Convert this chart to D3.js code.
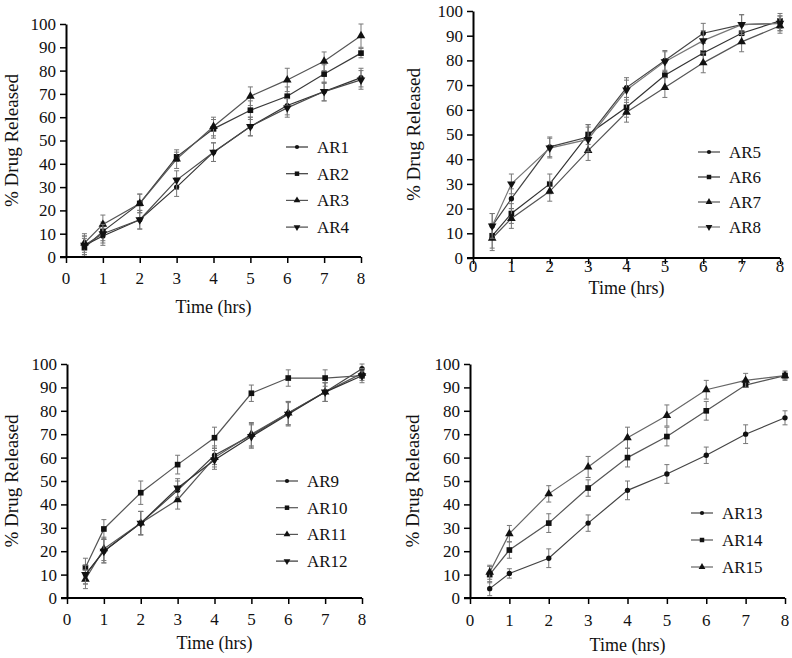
<!DOCTYPE html>
<html>
<head>
<meta charset="utf-8">
<script src="https://cdn.jsdelivr.net/npm/d3@7"></script>
<style>
  body { margin: 0; background: #fff; }
  svg text { font-family: "Liberation Serif", "Times New Roman", serif; fill: #111; }
</style>
</head>
<body>
<div id="chart"></div>
<script>

// time points (hrs)
var times = [0.5, 1, 2, 3, 4, 5, 6, 7, 8];
var xTicks = [0, 1, 2, 3, 4, 5, 6, 7, 8];
var yTicks = [0, 10, 20, 30, 40, 50, 60, 70, 80, 90, 100];

// % drug released
var ar1  = [5, 9, 16, 30, 45, 56, 65, 71, 77];
var ar2  = [4, 11, 23, 43, 55, 63, 69, 78.5, 87.5];
var ar3  = [6, 14, 23, 42, 56, 69, 76, 84, 95];
var ar4  = [5, 10, 16, 33, 45, 56, 64, 71, 76];

var ar5  = [13, 24, 45, 49, 69, 80, 91, 94.5, 95];
var ar6  = [9, 18, 30, 50, 61, 74, 83, 91, 96];
var ar7  = [8, 16, 27, 43.5, 59, 69, 79, 87.5, 94];
var ar8  = [13, 30, 44.5, 48, 68, 79.5, 88, 94.5, 95];

var ar9  = [10, 20, 32, 46, 61, 69.5, 79, 88, 98];
var ar10 = [13, 29.5, 45, 57, 68.5, 87.5, 94, 94, 95];
var ar11 = [8, 21, 32, 42, 60, 70, 79, 88, 96];
var ar12 = [10, 20, 32, 47, 59, 69, 78.5, 88, 95];

var ar13 = [4, 10.5, 17, 32, 46, 53, 61, 70, 77];
var ar14 = [10, 20.5, 32, 47, 60, 69, 80, 91, 95];
var ar15 = [11, 27.5, 44.5, 56, 68.5, 78, 89, 93, 95];

// +/- error (SD)
var err1  = [4, 4, 4, 4, 4, 4, 4, 4, 4];
var err2  = [4, 4, 4, 2, 4, 4, 4, 4, 2];
var err3  = [4, 4, 4, 4, 4, 4, 5, 4, 5];
var err4  = [4, 4, 4, 4, 4, 4, 4, 4, 4];
var err5  = [5, 4, 4, 5, 4, 4, 4, 4, 3];
var err6  = [5, 4, 4, 4, 4, 5, 4, 4, 3];
var err7  = [5, 4, 4, 4, 4, 4, 4, 4, 3];
var err8  = [5, 4, 4, 5, 4, 4, 4, 4, 3];
var err9  = [4, 5, 5, 4, 4, 5, 5, 4, 2];
var err10 = [4, 4, 5, 4, 4.5, 3.5, 3.5, 3.5, 3];
var err11 = [4, 5, 5, 4, 4, 5, 5, 4, 2];
var err12 = [4, 5, 5, 4, 4, 5, 5, 4, 2];
var err13 = [3, 2, 4, 3.5, 4, 4, 3.5, 4, 3];
var err14 = [3.5, 3.5, 4, 3.5, 4, 4, 4, 1, 2];
var err15 = [3, 3.5, 3.5, 4.5, 4.5, 4.5, 4, 3, 1.5];

var markers = ["circle", "square", "triangle", "down"];

var panels = [
  {
    names: ["AR1", "AR2", "AR3", "AR4"],
    values: [ar1, ar2, ar3, ar4],
    errors: [err1, err2, err3, err4],
    colors: ["#333", "#3a3a3a", "#555", "#4a4a4a"],
    x0: 66, x1: 361, top: 24, bottom: 257,
    tickY: 284, titleY: 313, yTitleX: 18,
    legX: 286, legY: 147, legStep: 26.7
  },
  {
    names: ["AR5", "AR6", "AR7", "AR8"],
    values: [ar5, ar6, ar7, ar8],
    errors: [err5, err6, err7, err8],
    colors: ["#444", "#333", "#555", "#777"],
    x0: 473, x1: 780, top: 11, bottom: 258,
    tickY: 272, titleY: 294, yTitleX: 420,
    legX: 698, legY: 152, legStep: 25
  },
  {
    names: ["AR9", "AR10", "AR11", "AR12"],
    values: [ar9, ar10, ar11, ar12],
    errors: [err9, err10, err11, err12],
    colors: ["#444", "#555", "#555", "#333"],
    x0: 67, x1: 362, top: 364, bottom: 598,
    tickY: 625, titleY: 649, yTitleX: 18,
    legX: 276, legY: 481, legStep: 26.7
  },
  {
    names: ["AR13", "AR14", "AR15"],
    values: [ar13, ar14, ar15],
    errors: [err13, err14, err15],
    colors: ["#444", "#555", "#666"],
    x0: 470, x1: 785, top: 364, bottom: 598,
    tickY: 626, titleY: 651, yTitleX: 419,
    legX: 691, legY: 513, legStep: 27
  }
];

var svg = d3.select("#chart")
  .append("svg")
  .attr("width", 792)
  .attr("height", 658);

svg.append("rect")
  .attr("width", 792)
  .attr("height", 658)
  .attr("fill", "#fff");

function markerPath(type, size) {
  if (type == "circle") return d3.symbol().type(d3.symbolCircle).size(size * 0.7)();
  if (type == "square") return d3.symbol().type(d3.symbolSquare).size(size)();
  return d3.symbol().type(d3.symbolTriangle).size(size)();
}

function drawMarker(g, type, x, y, size) {
  g.append("path")
    .attr("d", markerPath(type, size))
    .attr("transform", "translate(" + x + "," + y + ")" + (type == "down" ? " rotate(180)" : ""))
    .attr("fill", "#111");
}

panels.forEach(function(p) {
  var x = d3.scaleLinear().domain([0, 8]).range([p.x0, p.x1]);
  var y = d3.scaleLinear().domain([0, 100]).range([p.bottom, p.top]);

  var g = svg.append("g");

  // series
  p.values.forEach(function(vals, i) {
    var pts = times.map(function(t, k) { return { t: t, v: vals[k], e: p.errors[i][k] }; });
    var sg = g.append("g");

    // error bars
    var eb = sg.selectAll(".eb").data(pts).enter().append("g").attr("class", "eb")
      .attr("stroke", "#777").attr("stroke-width", 1);
    eb.append("line")
      .attr("x1", function(d) { return x(d.t); })
      .attr("x2", function(d) { return x(d.t); })
      .attr("y1", function(d) { return y(d.v - d.e); })
      .attr("y2", function(d) { return y(d.v + d.e); });
    eb.append("line")
      .attr("x1", function(d) { return x(d.t) - 2.5; })
      .attr("x2", function(d) { return x(d.t) + 2.5; })
      .attr("y1", function(d) { return y(d.v + d.e); })
      .attr("y2", function(d) { return y(d.v + d.e); });
    eb.append("line")
      .attr("x1", function(d) { return x(d.t) - 2.5; })
      .attr("x2", function(d) { return x(d.t) + 2.5; })
      .attr("y1", function(d) { return y(d.v - d.e); })
      .attr("y2", function(d) { return y(d.v - d.e); });

    var line = d3.line()
      .x(function(d) { return x(d.t); })
      .y(function(d) { return y(d.v); });

    sg.append("path")
      .datum(pts)
      .attr("d", line)
      .attr("fill", "none")
      .attr("stroke", p.colors[i])
      .attr("stroke-width", 1.2);

    pts.forEach(function(d) {
      drawMarker(sg, markers[i], x(d.t), y(d.v), 32);
    });

    // legend
    var ly = p.legY + i * p.legStep;
    g.append("line")
      .attr("x1", p.legX).attr("x2", p.legX + 22)
      .attr("y1", ly).attr("y2", ly)
      .attr("stroke", p.colors[i]).attr("stroke-width", 1.2);
    drawMarker(g, markers[i], p.legX + 11, ly, 20);
    g.append("text")
      .attr("x", p.legX + 31)
      .attr("y", ly)
      .attr("dy", "0.35em")
      .style("font-size", "17px")
      .text(p.names[i]);
  });

  // axes
  var xAxis = d3.axisBottom(x).tickValues(xTicks).tickSizeInner(6).tickSizeOuter(0).tickPadding(5);
  var yAxis = d3.axisLeft(y).tickValues(yTicks).tickSizeInner(6).tickSizeOuter(0).tickPadding(4);

  var gx = g.append("g")
    .attr("transform", "translate(0," + p.bottom + ")")
    .call(xAxis);
  gx.selectAll("text").remove();
  gx.selectAll(".domain").attr("stroke-width", 2).attr("d", "M" + (p.x0 - 6) + ",0H" + p.x1);
  gx.selectAll(".tick line").attr("stroke-width", 1.5);

  g.selectAll(".xlab").data(xTicks).enter().append("text")
    .attr("x", function(d) { return x(d); })
    .attr("y", p.tickY)
    .attr("text-anchor", "middle")
    .style("font-size", "17px")
    .text(function(d) { return d; });

  var gy = g.append("g")
    .attr("transform", "translate(" + p.x0 + ",0)")
    .call(yAxis);
  gy.selectAll(".domain").attr("stroke-width", 2);
  gy.selectAll(".tick line").attr("stroke-width", 1.5);
  gy.selectAll("text").style("font-size", "17px").attr("fill", "#111");

  // titles
  g.append("text")
    .attr("x", (p.x0 + p.x1) / 2)
    .attr("y", p.titleY)
    .attr("text-anchor", "middle")
    .style("font-size", "18px")
    .text("Time (hrs)");

  g.append("text")
    .attr("transform", "translate(" + p.yTitleX + "," + (p.top + p.bottom) / 2 + ") rotate(-90)")
    .attr("text-anchor", "middle")
    .style("font-size", "19px")
    .text("% Drug Released");
});

</script>
</body>
</html>
